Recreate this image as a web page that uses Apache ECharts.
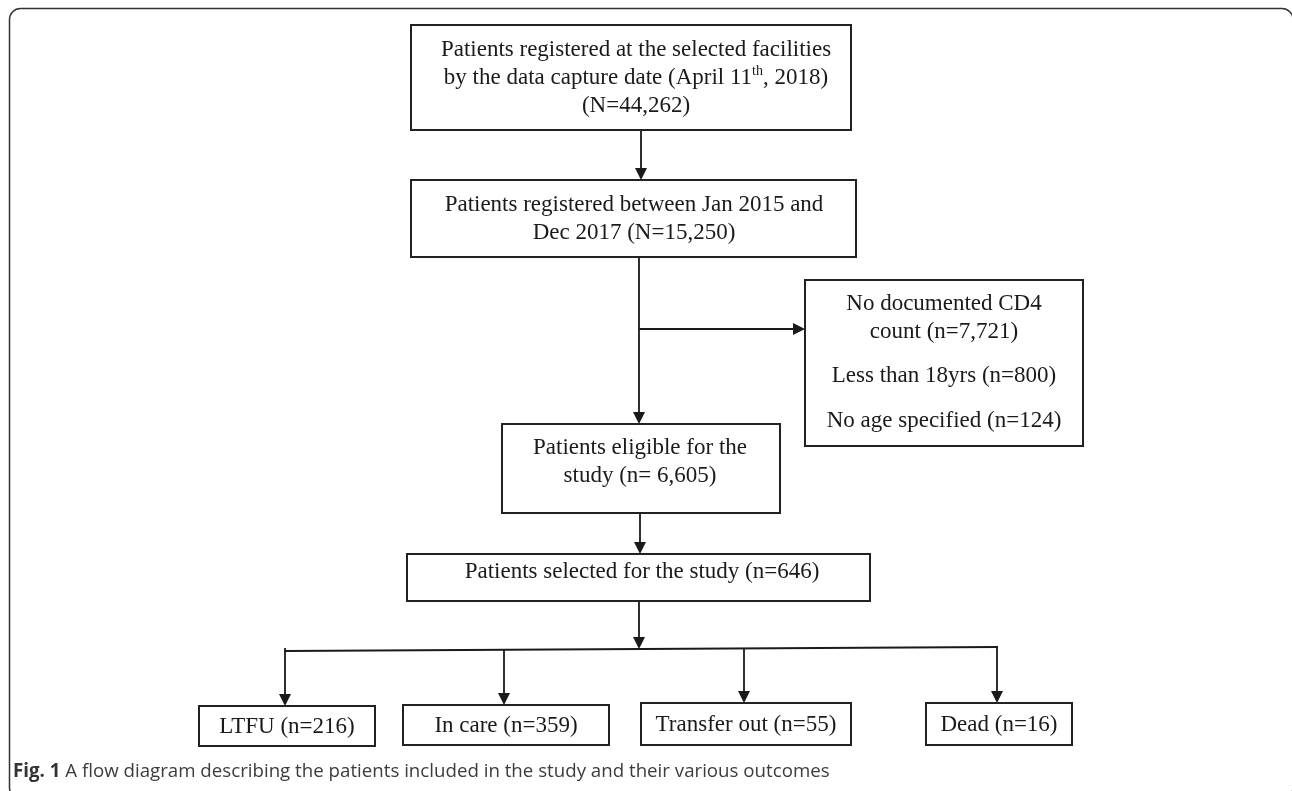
<!DOCTYPE html>
<html>
<head>
<meta charset="utf-8">
<script src="https://cdn.jsdelivr.net/npm/echarts@6/dist/echarts.min.js"></script>
<style>
html,body{margin:0;padding:0;background:#fff;}
#chart{width:1292px;height:791px;}
</style>
</head>
<body>
<div id="chart"></div>
<script>
// ---------- data ----------
const stepNames = [
  "Patients registered at the selected facilities\nby the data capture date (April 11{sup|th}, 2018)",
  "Patients registered between Jan 2015 and\nDec 2017",
  "Patients eligible for the\nstudy",
  "Patients selected for the study"
];
const stepCounts = [44262, 15250, 6605, 646];
const exclusionNames = ["No documented CD4\ncount", "Less than 18yrs", "No age specified"];
const exclusionCounts = [7721, 800, 124];
const outcomeNames = ["LTFU", "In care", "Transfer out", "Dead"];
const outcomeCounts = [216, 359, 55, 16];
const captionBold = "Fig. 1";
const captionText = "A flow diagram describing the patients included in the study and their various outcomes";

// ---------- layout ----------
const W = 1292, H = 791;
const fmt = n => n.toLocaleString('en-US');
const stepTpl = ["\n(N=", " (N=", " (n= ", " (n="];
const stepBoxes = [
  [411, 25, 851, 130, 636, 78],
  [411, 180, 856, 257, 634, 219],
  [502, 424, 780, 513, 640, 462],
  [407, 554, 870, 601, 642, 572]
];
const exclBox = [805, 280, 1083, 446];
const exclLines = [[944, 318], [944, 376], [944, 421]];
const outcomeBoxes = [
  [199, 706, 375, 746],
  [403, 705, 609, 745],
  [641, 703, 851, 745],
  [926, 703, 1072, 745]
];

const boxData = [];
stepBoxes.forEach((b, i) => {
  boxData.push({ value: b.slice(0, 4),
    texts: [stepNames[i] + stepTpl[i] + fmt(stepCounts[i]) + ")"], lines: [[b[4], b[5]]] });
});
boxData.push({ value: exclBox,
  texts: exclusionNames.map((n, i) => n + " (n=" + fmt(exclusionCounts[i]) + ")"),
  lines: exclLines });
outcomeBoxes.forEach((b, i) => {
  boxData.push({ value: b, texts: [outcomeNames[i] + " (n=" + fmt(outcomeCounts[i]) + ")"],
    lines: [[(b[0] + b[2]) / 2, (b[1] + b[3]) / 2 + 1]] });
});

const AH = 6; // half arrow length
const arrows = [
  [[641, 130], [641, 180 - AH]],
  [[639, 257], [639, 424 - AH]],
  [[639, 329], [805 - AH, 329]],
  [[640, 513], [640, 554 - AH]],
  [[639, 601], [639, 649 - AH]],
  [[285, 651], [285, 706 - AH]],
  [[504, 650], [504, 705 - AH]],
  [[744, 648], [744, 703 - AH]],
  [[997, 647], [997, 703 - AH]]
];
const plainLines = [
  [[285, 651], [998, 647]],
  [[285, 648], [285, 652]]
];

const serifFont = '23px "Liberation Serif", "Times New Roman", serif';
const richSup = { sup: { fontSize: 14, fontFamily: 'Liberation Serif', verticalAlign: 'top', lineHeight: 15, fill: '#1a1a1a' } };

const chart = echarts.init(document.getElementById('chart'), null, { renderer: 'canvas' });
chart.setOption({
  animation: false,
  backgroundColor: '#fff',
  grid: { left: 0, right: 0, top: 0, bottom: 0 },
  xAxis: { type: 'value', min: 0, max: W, show: false },
  yAxis: { type: 'value', min: 0, max: H, inverse: true, show: false },
  graphic: [
    { type: 'rect', shape: { x: 9.5, y: 8.5, width: 1283.5, height: 790, r: 11 },
      style: { fill: 'none', stroke: '#333', lineWidth: 1.5 }, z: 0 },
    { type: 'text', left: 13, top: 762,
      style: { text: '{b|' + captionBold + '} ' + captionText,
        font: '18.7px "Open Sans", "Noto Sans", sans-serif', fill: '#3c3c3c',
        rich: { b: { fontWeight: 'bold', fontSize: 18.7, fontFamily: 'Open Sans', fill: '#333' } } } }
  ],
  series: [
    {
      type: 'custom', coordinateSystem: 'cartesian2d', clip: false, z: 3,
      data: boxData,
      renderItem: function (params, api) {
        const d = boxData[params.dataIndex];
        const p1 = api.coord([api.value(0), api.value(1)]);
        const p2 = api.coord([api.value(2), api.value(3)]);
        const children = [{
          type: 'rect',
          shape: { x: p1[0], y: p1[1], width: p2[0] - p1[0], height: p2[1] - p1[1] },
          style: { fill: '#fff', stroke: '#222', lineWidth: 2 }
        }];
        d.texts.forEach((t, i) => {
          const c = api.coord(d.lines[i]);
          children.push({
            type: 'text',
            style: { text: t, x: c[0], y: c[1], align: 'center', verticalAlign: 'middle',
              font: serifFont, fill: '#1a1a1a', lineHeight: 28, rich: richSup }
          });
        });
        return { type: 'group', children: children };
      }
    },
    {
      type: 'lines', coordinateSystem: 'cartesian2d', z: 2,
      symbol: ['none', 'none'],
      lineStyle: { color: '#1a1a1a', width: 1.8, opacity: 1 },
      data: plainLines.map(c => ({ coords: c }))
    },
    {
      type: 'lines', coordinateSystem: 'cartesian2d', z: 2,
      symbol: ['none', 'triangle'], symbolSize: [10, 12],
      lineStyle: { color: '#1a1a1a', width: 1.8, opacity: 1 },
      itemStyle: { color: '#1a1a1a' },
      data: arrows.map(c => ({ coords: c }))
    }
  ]
});
</script>
</body>
</html>
